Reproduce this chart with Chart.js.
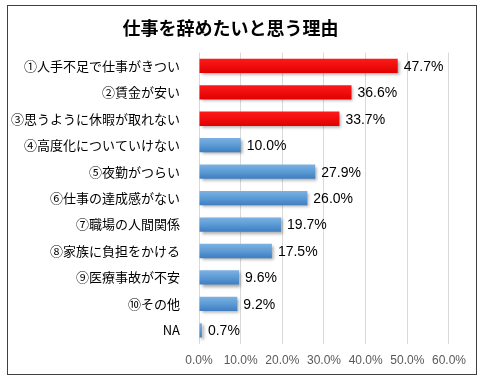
<!DOCTYPE html>
<html lang="ja">
<head>
<meta charset="utf-8">
<script src="https://cdn.jsdelivr.net/npm/chart.js@4"></script>
<style>
  html, body { margin: 0; padding: 0; background: #fff; }
  body { width: 485px; height: 385px; position: relative; overflow: hidden; }
  #frame {
    position: absolute; left: 7px; top: 5px; width: 468px; height: 368px;
    border: 1px solid #404040; background: #fff;
  }
  canvas { display: block; }
</style>
</head>
<body>
<div id="frame"><canvas id="reasons"></canvas></div>
<script>
var titleText = '仕事を辞めたいと思う理由';
var categories = [
  '①人手不足で仕事がきつい',
  '②賃金が安い',
  '③思うように休暇が取れない',
  '④高度化についていけない',
  '⑤夜勤がつらい',
  '⑥仕事の達成感がない',
  '⑦職場の人間関係',
  '⑧家族に負担をかける',
  '⑨医療事故が不安',
  '⑩その他',
  'NA'
];
var values = [47.7, 36.6, 33.7, 10.0, 27.9, 26.0, 19.7, 17.5, 9.6, 9.2, 0.7];
var highlighted = [true, true, true, false, false, false, false, false, false, false, false];
var xTicks = [0, 10, 20, 30, 40, 50, 60];

var jpFont = '"Noto Sans CJK JP", "Noto Sans", sans-serif';
var numFont = '"Liberation Sans", Arial, sans-serif';
var barPct = 0.54;

function barFill(ctx) {
  var chart = ctx.chart;
  var red = highlighted[ctx.dataIndex];
  var plain = red ? '#FF0000' : '#5B9BD5';
  var yScale = chart.scales && chart.scales.y;
  if (!yScale || !chart.chartArea) return plain;
  var cy = yScale.getPixelForValue(ctx.dataIndex);
  var half = (yScale.height / categories.length) * barPct / 2;
  if (!isFinite(cy) || !isFinite(half) || half <= 0) return plain;
  var g = chart.ctx.createLinearGradient(0, cy - half, 0, cy + half);
  if (red) {
    g.addColorStop(0, '#FF1A1A');
    g.addColorStop(1, '#E00000');
  } else {
    g.addColorStop(0, '#7DB1E3');
    g.addColorStop(0.5, '#5B9BD5');
    g.addColorStop(1, '#3F7DC0');
  }
  return g;
}

var shadowPlugin = {
  id: 'barShadow',
  beforeDatasetsDraw: function (chart) {
    var c = chart.ctx;
    c.save();
    c.shadowColor = 'rgba(0,0,0,0.35)';
    c.shadowOffsetX = 2;
    c.shadowOffsetY = 2;
    c.shadowBlur = 3;
  },
  afterDatasetsDraw: function (chart) {
    chart.ctx.restore();
  }
};

var valueLabels = {
  id: 'valueLabels',
  afterDatasetsDraw: function (chart) {
    var c = chart.ctx;
    var meta = chart.getDatasetMeta(0);
    c.save();
    c.font = '14px ' + numFont;
    c.fillStyle = '#000';
    c.textAlign = 'left';
    c.textBaseline = 'middle';
    meta.data.forEach(function (bar, i) {
      c.fillText(values[i].toFixed(1) + '%', bar.x + 6, bar.y + 1);
    });
    c.restore();
  }
};

new Chart(document.getElementById('reasons'), {
  type: 'bar',
  data: {
    labels: categories,
    datasets: [{
      data: values,
      backgroundColor: barFill,
      borderWidth: 0,
      barPercentage: barPct,
      categoryPercentage: 1
    }]
  },
  plugins: [shadowPlugin, valueLabels],
  options: {
    indexAxis: 'y',
    responsive: true,
    maintainAspectRatio: false,
    animation: false,
    layout: { padding: { top: 4, right: 23, bottom: -4, left: 0 } },
    plugins: {
      legend: { display: false },
      tooltip: { enabled: false },
      title: {
        display: true,
        text: titleText,
        color: '#000',
        font: { family: jpFont, size: 18, weight: 'bold' },
        padding: { top: 7, bottom: 14 }
      }
    },
    scales: {
      x: {
        min: 0,
        max: 60,
        afterBuildTicks: function (scale) {
          scale.ticks = xTicks.map(function (v) { return { value: v }; });
        },
        grid: { color: '#D9D9D9', drawTicks: false },
        border: { display: false },
        ticks: {
          color: '#595959',
          padding: 10,
          font: { family: numFont, size: 12 },
          callback: function (v) { return Number(v).toFixed(1) + '%'; }
        }
      },
      y: {
        afterFit: function (scale) { scale.width = 191; },
        grid: { display: false },
        border: { display: false },
        ticks: {
          color: '#000',
          padding: 11,
          font: { family: jpFont, size: 13 }
        }
      }
    }
  }
});
</script>
</body>
</html>
